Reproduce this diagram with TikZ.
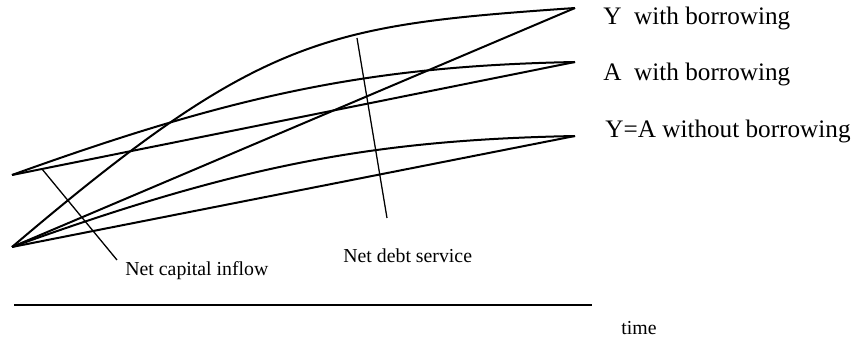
\documentclass[tikz,border=0pt]{standalone}
\usepackage{fontspec}
\setmainfont{Liberation Serif}
\usetikzlibrary{positioning}
\tikzset{
  curveline/.style={line width=1pt, black},
  pointerline/.style={line width=0.65pt, black},
  axisline/.style={line width=1.25pt, black},
  biglabel/.style={anchor=base west, inner sep=0pt, font=\fontsize{12.6}{15}\selectfont},
  smalllabel/.style={anchor=base west, inner sep=0pt, font=\fontsize{9.9}{12}\selectfont}
}

\begin{document}
\begin{tikzpicture}[x=0.5pt, y=-0.5pt]
    \useasboundingbox (0,0) rectangle (852,341);
    \coordinate (lowstart) at (12,247);
    \coordinate (highstart) at (12,175);
    \coordinate (yend) at (575,8);
    \coordinate (aend) at (575,62);
    \coordinate (noend) at (575,136);
    \draw[curveline] (lowstart) .. controls (262,34.5) and (325,25.5) .. (yend);
    \draw[curveline] (lowstart) -- (yend);
    \draw[curveline] (highstart) .. controls (242,92) and (375,66) .. (aend);
    \draw[curveline] (highstart) -- (aend);
    \draw[curveline] (lowstart) .. controls (242,164) and (375,140) .. (noend);
    \draw[curveline] (lowstart) -- (noend);
    \node[biglabel] (ylab) at (603,25) {Y\ \ with borrowing};
    \node[biglabel] (alab) at (603,81) {A\ \ with borrowing};
    \node[biglabel] (nolab) at (605,138) {Y=A without borrowing};
    \node[smalllabel] (caplab) at (125,276) {Net capital inflow};
    \node[smalllabel] (debtlab) at (343,263) {Net debt service};
    \node[smalllabel] (timelab) at (621,335) {time};
    \coordinate (capfoot) at (42,169);
    \coordinate (captip) at (117,260);
    \draw[pointerline] (capfoot) -- (captip);
    \coordinate (debtfoot) at (357,38);
    \coordinate (debttip) at (387,218);
    \draw[pointerline] (debtfoot) -- (debttip);
    \coordinate (axisleft) at (14,305);
    \coordinate (axisright) at (592,305);
    \draw[axisline] (axisleft) -- (axisright);
\end{tikzpicture}
\end{document}
